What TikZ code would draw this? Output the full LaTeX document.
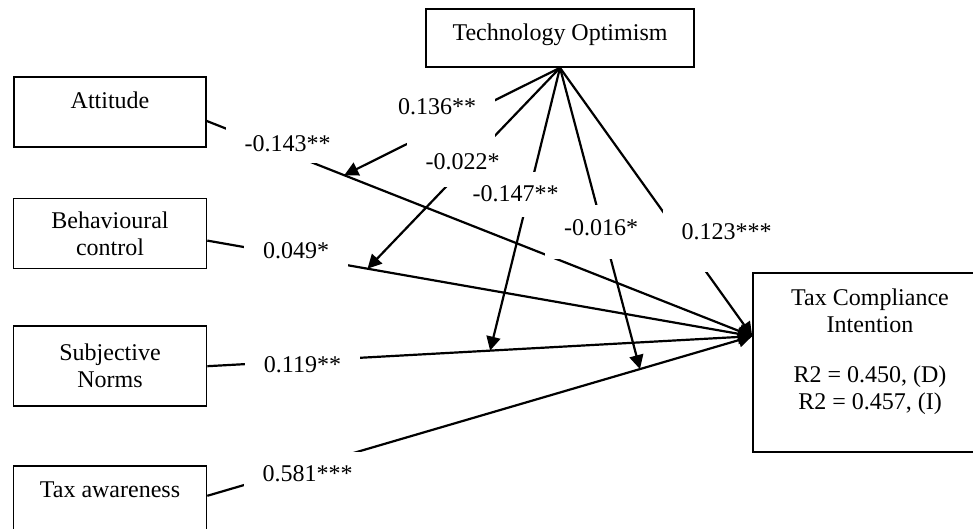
\documentclass[tikz,border=0pt]{standalone}
\usepackage{fontspec}
\setmainfont{Liberation Serif}
\usepackage{xcolor}
\usepackage{tikz}
\usetikzlibrary{positioning, arrows.meta, calc}

\begin{document}
\begin{tikzpicture}[x=0.5pt, y=-0.5pt, >={Triangle[length=7pt, width=7pt]},
  every node/.style={font=\fontsize{12pt}{13.5pt}\selectfont},
  construct/.style={draw, line width=0.8pt, inner sep=0pt, align=center},
  coef/.style={fill=white, inner xsep=9.5pt, inner ysep=0pt, text height=14.5pt, text depth=5.5pt, anchor=base},
  modcoef/.style={coef, text height=15pt, text depth=12pt},
  link/.style={->, line width=1.1pt}]
  \useasboundingbox (0,0) rectangle (973,529);
  \clip (0,0) rectangle (973,529);

  \node[construct, minimum width=134pt, text height=16pt, text depth=13pt] (techopt) at (560,38) {Technology Optimism};
  \node[construct, minimum width=96pt, text height=16pt, text depth=19pt]  (att)     at (110,112) {Attitude};
  \node[construct, minimum width=96.5pt, minimum height=35pt] (behav)    [below=25pt of att]     {Behavioural\\control};
  \node[construct, minimum width=96.5pt, minimum height=40pt] (subnorm)  [below=28pt of behav]   {Subjective\\Norms};
  \node[construct, minimum width=96.5pt, text height=16pt, text depth=34pt] (taxaware) [below=29pt of subnorm] {Tax awareness};
  \node[construct, minimum width=117pt, text height=16pt, text depth=73.5pt] (tci) at (870,362.5)
    {\begin{tabular}[t]{@{}c@{}}Tax Compliance\\ Intention\\[11.5pt] R2 = 0.450, (D)\\ R2 = 0.457, (I)\end{tabular}};
  \coordinate (tip) at ($(tci.north west)+(0,64)$);

  % direct paths
  \draw[link] ([yshift=-4.5pt]att.east)     -- coordinate[pos=0.252] (on-att)      (tip);
  \draw[link] ([yshift=-3.5pt]behav.east)   -- coordinate[pos=0.294] (on-behav)    (tip);
  \draw[link] (subnorm.east)                -- coordinate[pos=0.519] (on-subnorm)  (tip);
  \draw[link] ([yshift=10pt]taxaware.east)  -- coordinate[pos=0.794] (on-taxaware) (tip);

  % moderation
  \foreach \tgt in {on-att, on-behav, on-subnorm, on-taxaware, tip}
    \draw[link] (techopt.south) -- (\tgt);

  \node[coef] (c-att)      at (287.5,152) {-0.143**};
  \node[coef] (c-behav)    at (296,258)   {0.049*};
  \node[coef] (c-subnorm)  at (302.5,372) {0.119**};
  \node[coef] (c-taxaware) at (307.5,481) {0.581***};

  \node[modcoef, text depth=13.5pt]                  (m-att)      at (437,115)   {0.136**};
  \node[modcoef, text height=16.5pt, text depth=8.5pt] (m-behav)  at (462.5,170) {-0.022*};
  \node[modcoef, text depth=7.5pt]                   (m-subnorm)  at (515.5,202) {-0.147**};
  \node[modcoef]                                     (m-taxaware) at (601,235)   {-0.016*};
  \node[modcoef, text depth=16pt]                    (m-tci)      at (726.5,240) {0.123***};
\end{tikzpicture}
\end{document}
